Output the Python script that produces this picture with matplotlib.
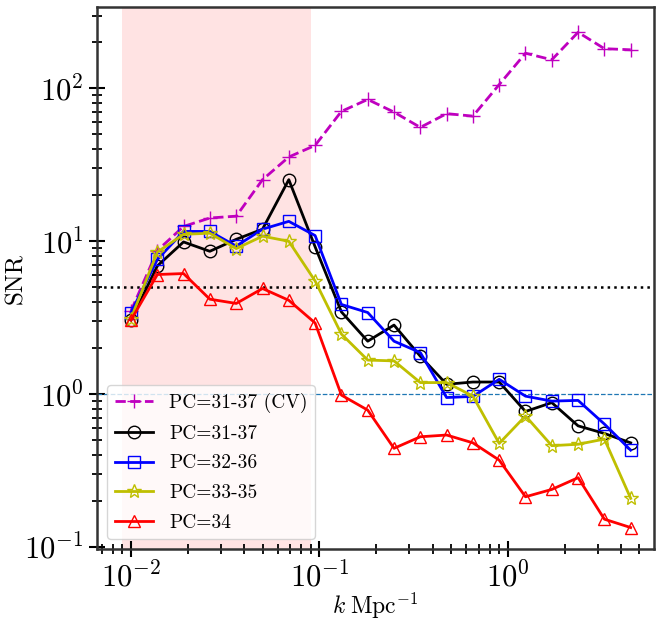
import numpy as np
import matplotlib
matplotlib.use("Agg")
import matplotlib.pyplot as plt

plt.rcParams['font.family'] = 'serif'
plt.rcParams['font.serif'] = ['cmr10']
plt.rcParams['mathtext.fontset'] = 'cm'
plt.rcParams['axes.unicode_minus'] = False
plt.rcParams['axes.formatter.use_mathtext'] = True

k = [0.01, 0.0138, 0.019, 0.0262, 0.0362, 0.0499, 0.0688, 0.0949, 0.1309, 0.1805,
     0.2489, 0.3433, 0.4734, 0.6528, 0.9002, 1.2414, 1.712, 2.361, 3.256, 4.49]

snr_cv = [3.5, 8.7, 12.5, 14.2, 14.6, 25.3, 35.6, 42.4, 70.8, 84.7,
          70.0, 55.6, 68.4, 65.9, 106, 170, 154, 233, 182, 179]
snr_31_37 = [3.05, 6.9, 9.9, 8.6, 10.3, 12.0, 25.3, 9.2, 3.45, 2.22,
             2.83, 1.77, 1.16, 1.2, 1.2, 0.77, 0.88, 0.62, 0.553, 0.48]
snr_32_36 = [3.42, 7.6, 11.6, 11.6, 9.3, 12.0, 13.5, 10.9, 3.86, 3.42,
             2.22, 1.87, 0.95, 0.966, 1.25, 0.97, 0.9, 0.91, 0.637, 0.43]
snr_33_35 = [3.12, 8.5, 11.1, 11.3, 8.96, 10.8, 10.0, 5.5, 2.47, 1.67,
             1.65, 1.19, 1.19, 0.97, 0.476, 0.72, 0.46, 0.47, 0.508, 0.208]
snr_34 = [3.05, 6.06, 6.15, 4.18, 3.92, 4.91, 4.11, 2.92, 0.985, 0.786,
          0.442, 0.526, 0.54, 0.48, 0.37, 0.213, 0.238, 0.284, 0.152, 0.134]

labels = ['PC=31-37 (CV)', 'PC=31-37', 'PC=32-36', 'PC=33-35', 'PC=34']

fig = plt.figure(figsize=(6.62, 6.25), dpi=100)
ax = fig.add_axes([97/662, 1 - 549/625, (654 - 97)/662, (549 - 7)/625])

ax.axvspan(0.009, 0.09, color='red', alpha=0.11, lw=0)
ax.axhline(5, color='k', ls=':', lw=1.8)
ax.axhline(1, color='C0', ls='--', lw=0.9)

ms = 9
ax.plot(k, snr_cv, 'm--', marker='+', ms=10, mew=1.0, lw=2, label=labels[0])
ax.plot(k, snr_31_37, 'k-', marker='o', ms=ms, mfc='none', lw=2, label=labels[1])
ax.plot(k, snr_32_36, 'b-', marker='s', ms=ms, mfc='none', lw=2, label=labels[2])
ax.plot(k, snr_33_35, 'y-', marker='*', ms=10, mfc='none', lw=2, label=labels[3])
ax.plot(k, snr_34, 'r-', marker='^', ms=ms, mfc='none', lw=2, label=labels[4])

ax.set_xscale('log')
ax.set_yscale('log')
ax.set_xlim(0.0066, 5.97)
ax.set_ylim(0.097, 341)

ax.tick_params(axis='both', which='major', direction='inout', length=12, width=1.5,
               labelsize=22, top=False, right=False)
ax.tick_params(axis='both', which='minor', direction='inout', length=7, width=1.3,
               top=False, right=False)
for s in ax.spines.values():
    s.set_color('0.2')
    s.set_linewidth(1.8)

ax.set_xlabel(r'$k\;{\rm Mpc}^{-1}$', fontsize=17)
ax.set_ylabel('SNR', fontsize=18)
ax.xaxis.set_label_coords(0.5, -0.078)
ax.yaxis.set_label_coords(-0.125, 0.5)

ax.legend(loc='lower left', fontsize=14, handlelength=2.0, labelspacing=0.6,
          borderaxespad=0.5)

fig.savefig('out.png', dpi=100)
